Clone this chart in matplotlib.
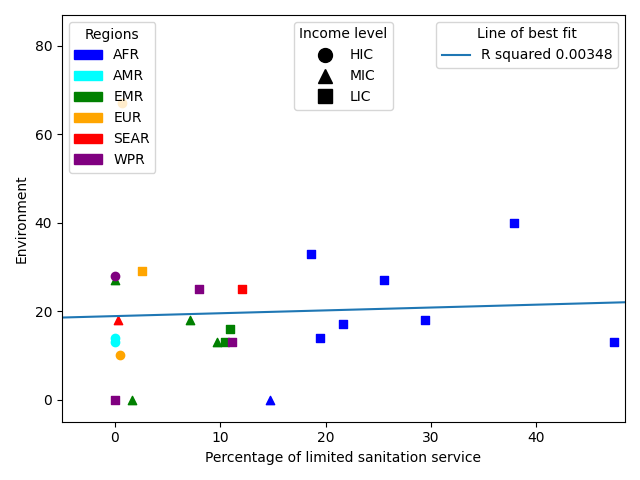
import numpy as np
import matplotlib
matplotlib.use('Agg')
import matplotlib.pyplot as plt
from matplotlib.patches import Patch
from matplotlib.lines import Line2D

# values
sanitation = [18.65, 19.5, 21.7, 25.5, 29.4, 37.9, 47.4, 14.75,
              0.0, 0.0,
              0.0, 7.15, 9.7, 1.65, 10.95, 10.5,
              2.6, 0.5, 0.7,
              12.1, 0.3,
              0.0, 8.0, 11.1, 0.0]
environment = [33, 14, 17, 27, 18, 40, 13, 0,
               14, 13,
               27, 18, 13, 0, 16, 13,
               29, 10, 67,
               25, 18,
               28, 25, 13, 0]
region = ['AFR'] * 8 + ['AMR'] * 2 + ['EMR'] * 6 + ['EUR'] * 3 + ['SEAR'] * 2 + ['WPR'] * 4
income = ['LIC'] * 7 + ['MIC'] + \
         ['HIC', 'HIC'] + \
         ['MIC', 'MIC', 'MIC', 'MIC', 'LIC', 'LIC'] + \
         ['LIC', 'HIC', 'HIC'] + \
         ['LIC', 'MIC'] + \
         ['HIC', 'LIC', 'LIC', 'LIC']

region_names = ['AFR', 'AMR', 'EMR', 'EUR', 'SEAR', 'WPR']
region_colors = {'AFR': 'blue', 'AMR': 'cyan', 'EMR': 'green',
                 'EUR': 'orange', 'SEAR': 'red', 'WPR': 'purple'}
income_names = ['HIC', 'MIC', 'LIC']
income_markers = {'HIC': 'o', 'MIC': '^', 'LIC': 's'}

fig, ax = plt.subplots(figsize=(6.4, 4.8), dpi=100)

for xi, yi, r, inc in zip(sanitation, environment, region, income):
    ax.scatter(xi, yi, color=region_colors[r], marker=income_markers[inc])

# line of best fit
slope, intercept = np.polyfit(sanitation, environment, 1)
ax.axline((0, intercept), slope=slope, color='tab:blue')

ax.set_xlim(-5, 48.4)
ax.set_ylim(-5, 87)
ax.set_xlabel('Percentage of limited sanitation service')
ax.set_ylabel('Environment')

region_handles = [Patch(color=region_colors[r], label=r) for r in region_names]
leg1 = ax.legend(handles=region_handles, title='Regions', loc='upper left')
ax.add_artist(leg1)

income_handles = [Line2D([], [], color='black', marker=income_markers[i], linestyle='None',
                         markersize=10, label=i) for i in income_names]
leg2 = ax.legend(handles=income_handles, title='Income level', loc='upper center')
ax.add_artist(leg2)

fit_handle = [Line2D([], [], color='tab:blue', label='R squared 0.00348')]
ax.legend(handles=fit_handle, title='Line of best fit', loc='upper right')

plt.tight_layout()
plt.savefig('out.png')
